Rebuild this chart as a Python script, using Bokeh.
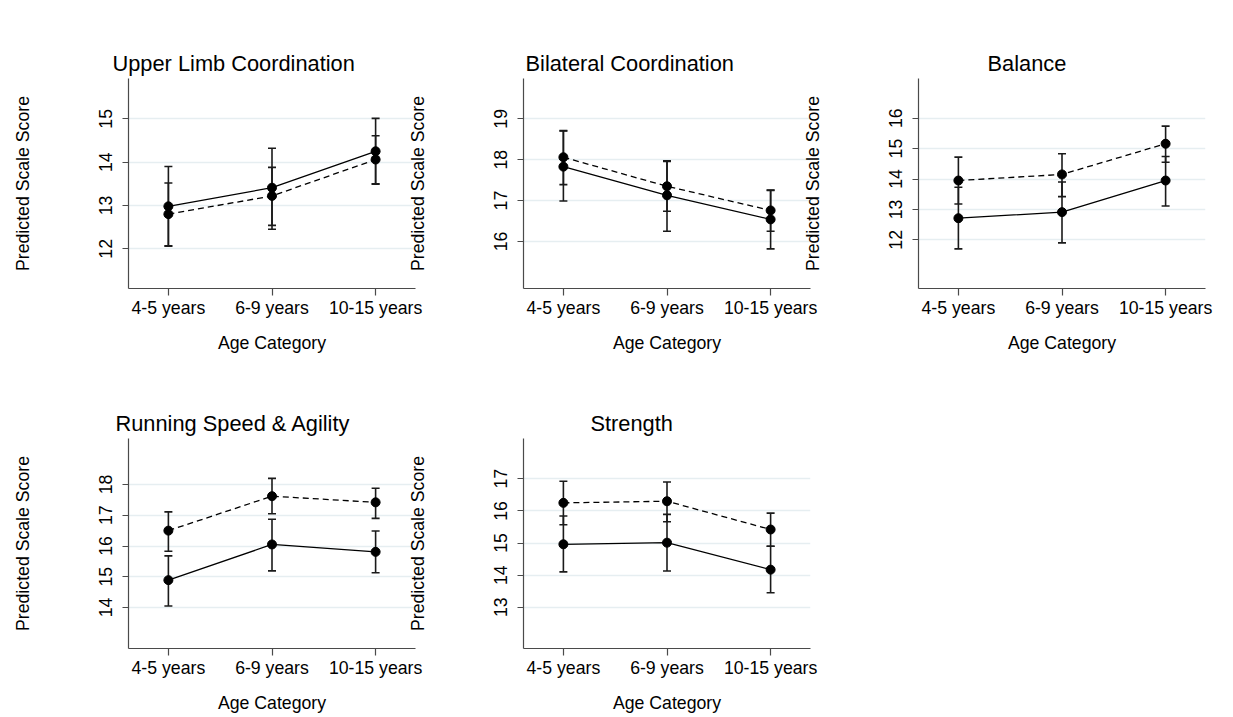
from bokeh.plotting import figure
from bokeh.models import ColumnDataSource, Whisker, TeeHead, Title
from bokeh.layouts import row, column
from bokeh.embed import file_html
from bokeh.resources import INLINE

# ---------------- data ----------------
categories = ["4-5 years", "6-9 years", "10-15 years"]
x_positions = [1, 2, 3]

panel_titles = ["Upper Limb Coordination", "Bilateral Coordination", "Balance",
                "Running Speed & Agility", "Strength"]

# Upper Limb Coordination
ulc_solid = [12.98, 13.41, 14.25]
ulc_solid_lo = [12.06, 12.45, 13.49]
ulc_solid_hi = [13.90, 14.32, 15.01]
ulc_dash = [12.80, 13.22, 14.06]
ulc_dash_lo = [12.07, 12.54, 13.50]
ulc_dash_hi = [13.52, 13.88, 14.61]

# Bilateral Coordination
bc_solid = [17.83, 17.13, 16.54]
bc_solid_lo = [16.99, 16.25, 15.82]
bc_solid_hi = [18.70, 17.96, 17.25]
bc_dash = [18.06, 17.35, 16.76]
bc_dash_lo = [17.39, 16.74, 16.25]
bc_dash_hi = [18.71, 17.97, 17.26]

# Balance
bal_solid = [12.71, 12.91, 13.95]
bal_solid_lo = [11.70, 11.90, 13.11]
bal_solid_hi = [13.73, 13.90, 14.74]
bal_dash = [13.95, 14.15, 15.16]
bal_dash_lo = [13.18, 13.42, 14.55]
bal_dash_hi = [14.72, 14.83, 15.74]

# Running Speed & Agility
rsa_solid = [14.89, 16.05, 15.81]
rsa_solid_lo = [14.05, 15.19, 15.13]
rsa_solid_hi = [15.68, 16.87, 16.49]
rsa_dash = [16.50, 17.62, 17.42]
rsa_dash_lo = [15.83, 17.05, 16.90]
rsa_dash_hi = [17.11, 18.20, 17.88]

# Strength
str_solid = [14.96, 15.01, 14.17]
str_solid_lo = [14.10, 14.13, 13.45]
str_solid_hi = [15.84, 15.89, 14.90]
str_dash = [16.25, 16.30, 15.42]
str_dash_lo = [15.57, 15.66, 14.90]
str_dash_hi = [16.92, 16.90, 15.93]

y_ticks = [[12, 13, 14, 15], [16, 17, 18, 19], [12, 13, 14, 15, 16],
           [14, 15, 16, 17, 18], [13, 14, 15, 16, 17]]
y_limits = [(11.084, 15.930), (14.851, 19.985), (10.398, 17.306),
            (12.667, 19.496), (11.716, 18.253)]

FONT = "Liberation Sans"
AX = "#4a4a4a"


def make_panel(title, t_offset, ylim, ticks, series, width, height, bleft, btop, bbot):
    p = figure(width=width, height=height, output_backend="svg", toolbar_location=None,
               x_range=(0.615, 3.385), y_range=ylim,
               min_border_left=bleft, min_border_right=13,
               min_border_top=btop, min_border_bottom=bbot,
               background_fill_color=None, border_fill_color=None,
               outline_line_color=None)
    p.title = Title(text=title, align="left", offset=t_offset, text_font=FONT,
                    text_font_size="21.8px", text_font_style="normal",
                    text_color="black", standoff=6)
    for ax in (p.xaxis[0], p.yaxis[0]):
        ax.axis_line_color = AX
        ax.axis_line_width = 1.2
        ax.major_tick_line_color = AX
        ax.major_tick_line_width = 1.2
        ax.major_tick_in = 0
        ax.minor_tick_line_color = None
        ax.major_label_text_font = FONT
        ax.major_label_text_font_size = "17.7px"
        ax.major_label_text_color = "black"
        ax.axis_label_text_font = FONT
        ax.axis_label_text_font_size = "17.7px"
        ax.axis_label_text_font_style = "normal"
        ax.axis_label_text_color = "black"
    p.xaxis.ticker = x_positions
    p.xaxis.major_label_overrides = {x: c for x, c in zip(x_positions, categories)}
    p.xaxis.major_tick_out = 7
    p.xaxis.major_label_standoff = 2
    p.xaxis.axis_label = "Age Category"
    p.xaxis.axis_label_standoff = 12
    p.yaxis.ticker = ticks
    p.yaxis.major_tick_out = 6
    p.yaxis.major_label_orientation = "vertical"
    p.yaxis.major_label_standoff = 10
    p.yaxis.axis_label = "Predicted Scale Score"
    p.yaxis.axis_label_standoff = 64
    p.xgrid.grid_line_color = None
    p.ygrid.grid_line_color = "#e6eef1"
    p.ygrid.grid_line_width = 1.3

    for mean, lo, hi, dash in series:
        src = ColumnDataSource(dict(x=x_positions, y=mean, lo=lo, hi=hi))
        w = Whisker(base="x", lower="lo", upper="hi", source=src,
                    line_color="#1a1a1a", line_width=1.6,
                    upper_head=TeeHead(size=8, line_color="#1a1a1a", line_width=1.6),
                    lower_head=TeeHead(size=8, line_color="#1a1a1a", line_width=1.6))
        p.add_layout(w)
        p.line("x", "y", source=src, line_color="black", line_width=1.3,
               line_dash=dash)
        p.scatter("x", "y", source=src, size=9, color="black")
    return p


series_list = [
    [(ulc_solid, ulc_solid_lo, ulc_solid_hi, "solid"), (ulc_dash, ulc_dash_lo, ulc_dash_hi, "6 4")],
    [(bc_solid, bc_solid_lo, bc_solid_hi, "solid"), (bc_dash, bc_dash_lo, bc_dash_hi, "6 4")],
    [(bal_solid, bal_solid_lo, bal_solid_hi, "solid"), (bal_dash, bal_dash_lo, bal_dash_hi, "6 4")],
    [(rsa_solid, rsa_solid_lo, rsa_solid_hi, "solid"), (rsa_dash, rsa_dash_lo, rsa_dash_hi, "6 4")],
    [(str_solid, str_solid_lo, str_solid_hi, "solid"), (str_dash, str_dash_lo, str_dash_hi, "6 4")],
]
title_offsets = [-16, 2, 69, -13, 67]

figs = []
for i in range(5):
    top_row = i < 3
    first_col = i in (0, 3)
    figs.append(make_panel(panel_titles[i], title_offsets[i], y_limits[i], y_ticks[i],
                           series_list[i],
                           width=428 if first_col else 420,
                           height=365 if top_row else 352,
                           bleft=128 if first_col else 120,
                           btop=78 if top_row else 73,
                           bbot=77 if top_row else 69))

figs[1].margin = (0, 0, 0, -25)
figs[2].margin = (0, 0, 0, -25)
figs[4].margin = (0, 0, 0, -25)

layout = column(row(figs[0], figs[1], figs[2]), row(figs[3], figs[4]))

open("out.html", "w").write(file_html(layout, INLINE))
